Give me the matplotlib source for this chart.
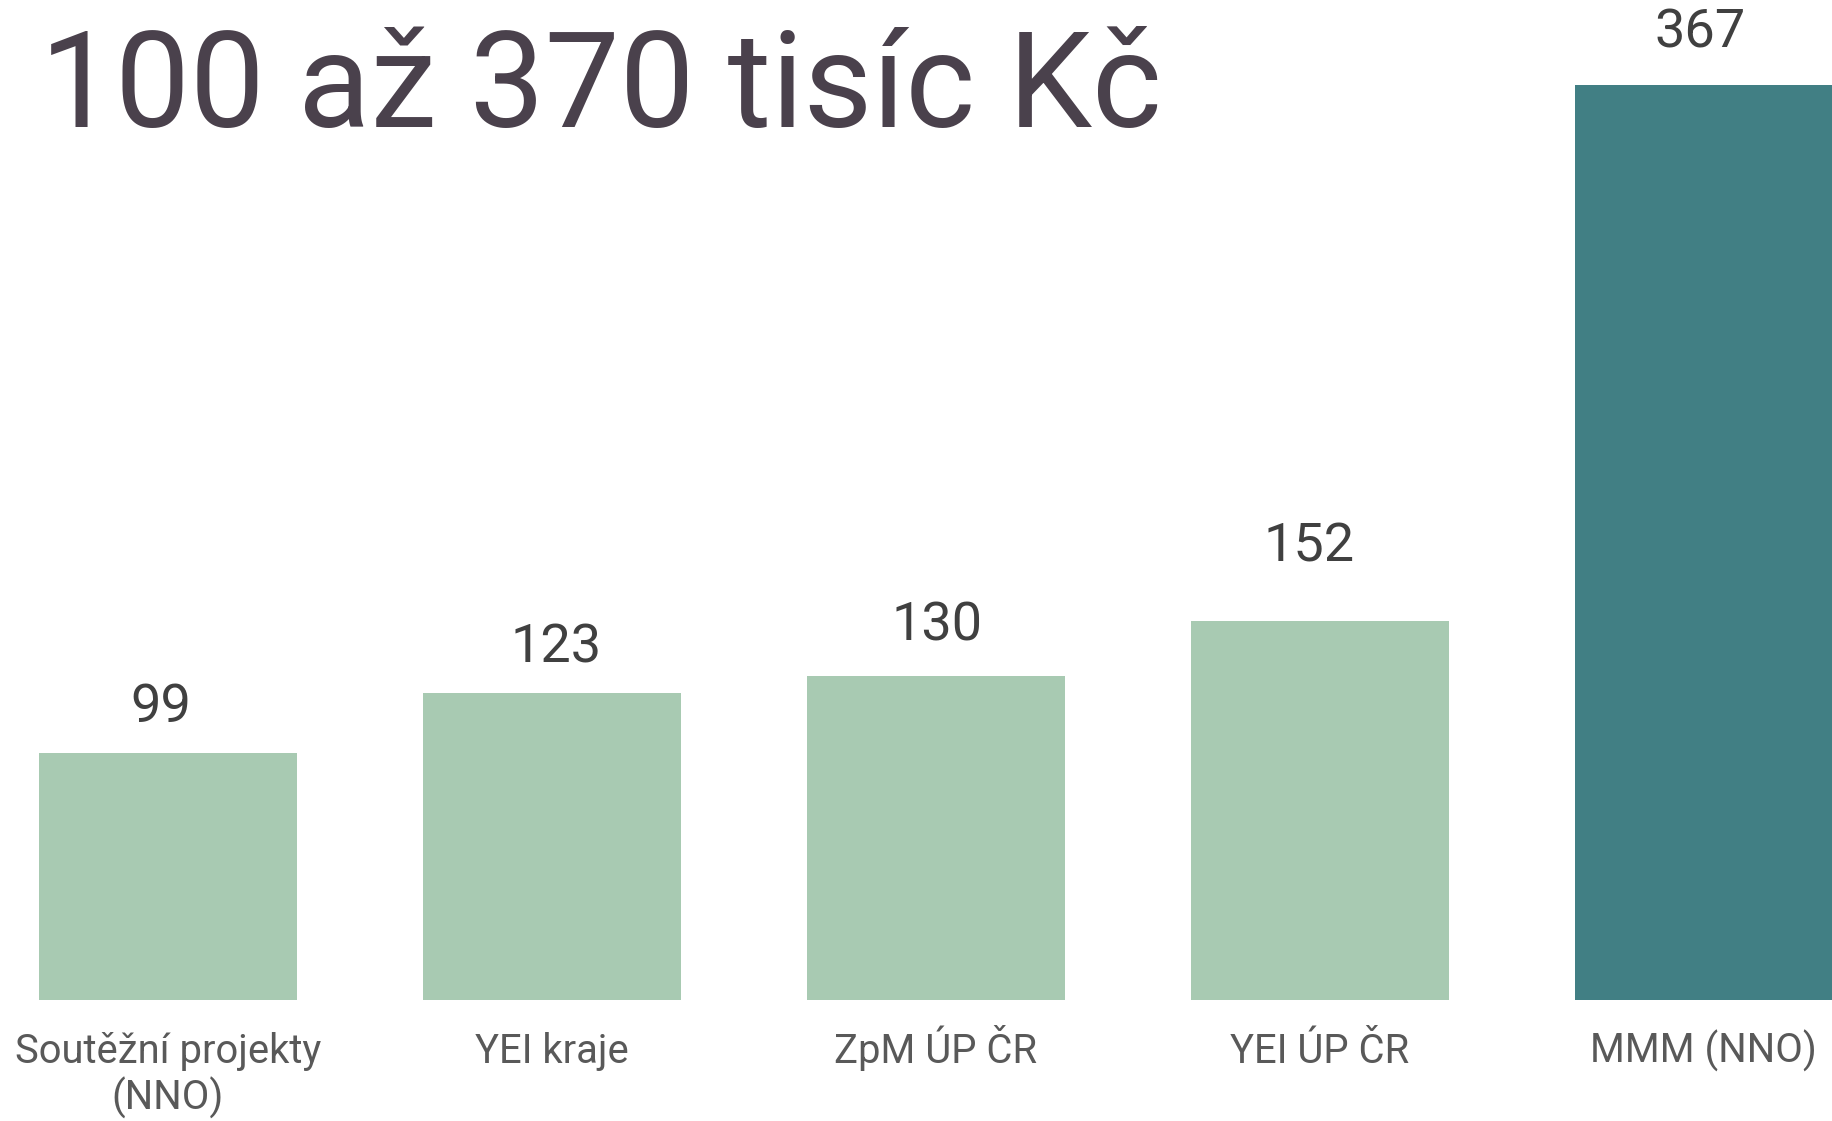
import matplotlib
matplotlib.use("Agg")
import matplotlib.pyplot as plt
import matplotlib.transforms as mtransforms

plt.rcParams['font.family'] = ['Roboto', 'DejaVu Sans']

categories = ["Soutěžní projekty\n(NNO)", "YEI kraje", "ZpM ÚP ČR", "YEI ÚP ČR", "MMM (NNO)"]
values = [99, 123, 130, 152, 367]
value_labels = ["99", "123", "130", "152", "367"]
title = "100 až 370 tisíc Kč"

# label placement tweaks (pixels) to mimic the original layout
label_dx = [-7, 4.5, 1, -10.5, -4]
label_dy = [31, 31, 35, 60, 38]

light = "#a8cab2"
dark = "#417f84"
colors = [light, light, light, light, dark]

W, H = 1832, 1121
DPI = 100
fig = plt.figure(figsize=(W / DPI, H / DPI), dpi=DPI)
fig.patch.set_facecolor("white")

base_px = 1000  # baseline pixel from top
ax = fig.add_axes([0, 1 - base_px / H, 1, base_px / H])
ax.set_facecolor("white")

x = list(range(len(values)))
ax.bar(x, values, width=0.672, color=colors, edgecolor="none")
ax.set_xlim(-0.4367, 4.334)
ax.set_ylim(0, 401.1)
ax.axis("off")

px2pt = 72 / DPI
for xi, v, lab, dx, dy in zip(x, values, value_labels, label_dx, label_dy):
    ax.annotate(lab, (xi, v), xytext=(dx * px2pt, dy * px2pt), textcoords="offset points",
                ha="center", va="baseline", fontsize=39, color="#404040")

trans = mtransforms.blended_transform_factory(ax.transData, ax.transAxes)
first_baseline_px = 63
line_gap_px = 47
for xi, cat in zip(x, categories):
    for k, line in enumerate(cat.split("\n")):
        off = -(first_baseline_px + k * line_gap_px) * px2pt
        ax.annotate(line, (xi, 0), xycoords=trans, xytext=(0, off), textcoords="offset points",
                    ha="center", va="baseline", fontsize=28.8, color="#595959")

fig.text(40 / W, 1 - 127 / H, title, ha="left", va="baseline", fontsize=96, color="#4a414c")

fig.savefig("out.png", dpi=DPI, facecolor="white")
